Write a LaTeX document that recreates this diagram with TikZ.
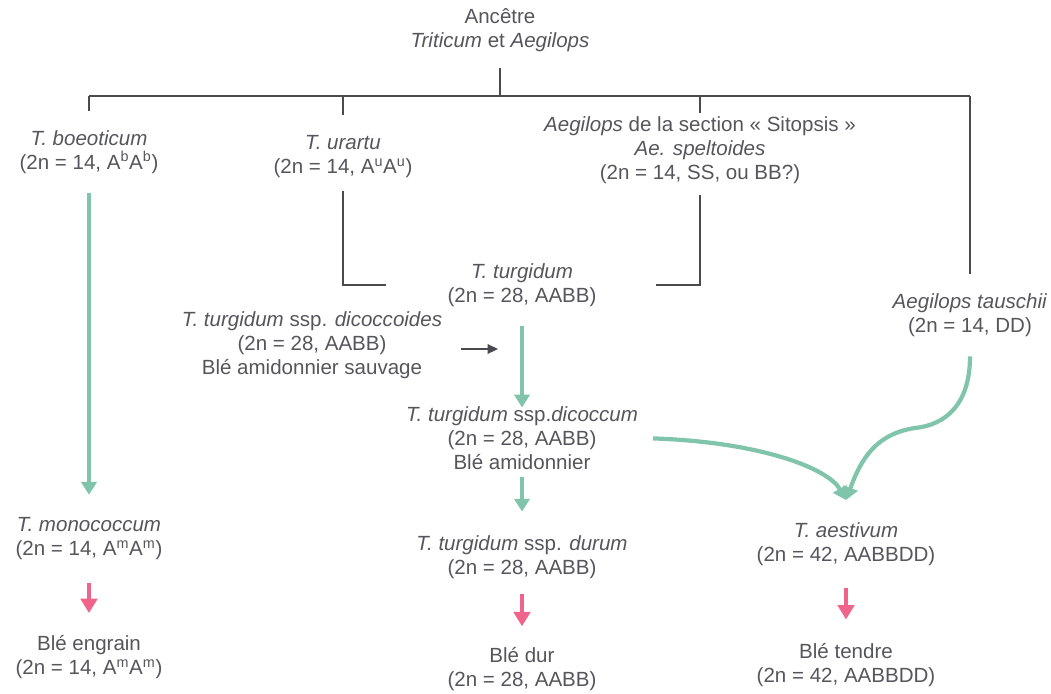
\documentclass[tikz,border=0pt]{standalone}
\usepackage{fontspec}
\setmainfont{Liberation Sans}
\usepackage{xcolor}
\usetikzlibrary{arrows.meta}

\definecolor{txtgray}{HTML}{55555C}
\definecolor{linegray}{HTML}{4A4A4E}
\definecolor{mint}{HTML}{80C5AB}
\definecolor{rose}{HTML}{F0648C}

\tikzset{
  taxon/.style={align=center, text=txtgray, inner sep=2pt,
    font=\fontsize{14.6}{17}\selectfont},
  tree/.style={draw=linegray, line width=1pt},
  descent/.style={draw=mint, line width=3pt,
    -{Triangle[length=3.2mm, width=3.8mm]}},
  crop/.style={draw=rose, line width=3.4pt,
    -{Triangle[length=3.6mm, width=4.1mm]}},
  feed/.style={draw=linegray, line width=0.9pt,
    -{Triangle[length=2.6mm, width=2.4mm]}}
}

\begin{document}
\begin{tikzpicture}[x=0.025cm, y=-0.025cm]
     \useasboundingbox (0,0) rectangle (1051,693);

     % ancestor and first generation
     \node[taxon] (anc) at (500,30) {Ancêtre\\\textit{Triticum} et \textit{Aegilops}};
     \node[taxon] (boeo) at (89,152) {\textit{T. boeoticum}\\(2n = 14, A\textsuperscript{b}A\textsuperscript{b})};
     \node[taxon] (urartu) at (343,157) {\textit{T. urartu}\\(2n = 14, A\textsuperscript{u}A\textsuperscript{u})};
     \node[taxon] (sito) at (700,150) {\textit{Aegilops} de la section « Sitopsis »\\\textit{Ae. speltoides}\\(2n = 14, SS, ou BB?)};
     \node[taxon] (tausch) at (970,315) {\textit{Aegilops tauschii}\\(2n = 14, DD)};

     % tetraploids
     \node[taxon] (turg) at (522,285) {\textit{T. turgidum}\\(2n = 28, AABB)};
     \node[taxon] (dicoides) at (312,345) {\textit{T. turgidum} ssp. \textit{dicoccoides}\\(2n = 28, AABB)\\Blé amidonnier sauvage};
     \node[taxon] (dicoccum) at (522,438) {\textit{T. turgidum} ssp.\textit{dicoccum}\\(2n = 28, AABB)\\Blé amidonnier};

     % cultivated forms
     \node[taxon] (mono) at (89,539) {\textit{T. monococcum}\\(2n = 14, A\textsuperscript{m}A\textsuperscript{m})};
     \node[taxon] (durum) at (522,557) {\textit{T. turgidum} ssp. \textit{durum}\\(2n = 28, AABB)};
     \node[taxon] (aest) at (846,544) {\textit{T. aestivum}\\(2n = 42, AABBDD)};
     \node[taxon] (engrain) at (89,657) {Blé engrain\\(2n = 14, A\textsuperscript{m}A\textsuperscript{m})};
     \node[taxon] (bledur) at (522,669) {Blé dur\\(2n = 28, AABB)};
     \node[taxon] (tendre) at (846,665) {Blé tendre\\(2n = 42, AABBDD)};

     \coordinate (hub) at (500,96);
     \coordinate (merge) at (498,349);
     \coordinate (hexa) at (846,500);

     % tree
     \draw[tree, shorten <=0.33cm] (anc.south) -- (hub);
     \draw[tree] (boeo |- hub) -- (tausch |- hub);
     \draw[tree, shorten >=0.4cm] (boeo |- hub) -- (boeo);
     \draw[tree, shorten >=0.45cm] (urartu |- hub) -- (urartu);
     \draw[tree] (sito |- hub) -- (sito);
     \draw[tree, shorten >=0.42cm] (tausch |- hub) -- (tausch);
     \draw[tree, shorten <=0.25cm, shorten >=1.45cm] (urartu) |- (turg.west);
     \draw[tree, shorten <=0.2cm, shorten >=1.4cm] (sito) |- (turg.east);

     % green arrows
     \draw[descent, shorten <=0.42cm, shorten >=0.5cm] (boeo) -- (mono);
     \draw[descent, shorten <=0.42cm, shorten >=-0.1cm] (turg) -- (dicoccum);
     \draw[descent, shorten <=0.1cm, shorten >=0.52cm] (dicoccum) -- (durum);
     \draw[descent, shorten <=0.3cm] (dicoccum.east)
          .. controls (760,442) and (828,468) .. (hexa);
     \draw[descent, shorten <=0.42cm] (tausch.south)
          .. controls (970,405) and (945,425) .. (915,428)
          .. controls (874,434) and (860,462) .. (hexa);
     \draw[feed, shorten <=0.4cm] (dicoides.east |- merge) -- (merge);

     % pink arrows
     \draw[crop, shorten <=0.5cm, shorten >=0.48cm] (mono) -- (engrain);
     \draw[crop, shorten <=0.3cm, shorten >=0.45cm] (durum) -- (bledur);
     \draw[crop, shorten <=0.48cm, shorten >=0.52cm] (aest) -- (tendre);
 \end{tikzpicture}
\end{document}
